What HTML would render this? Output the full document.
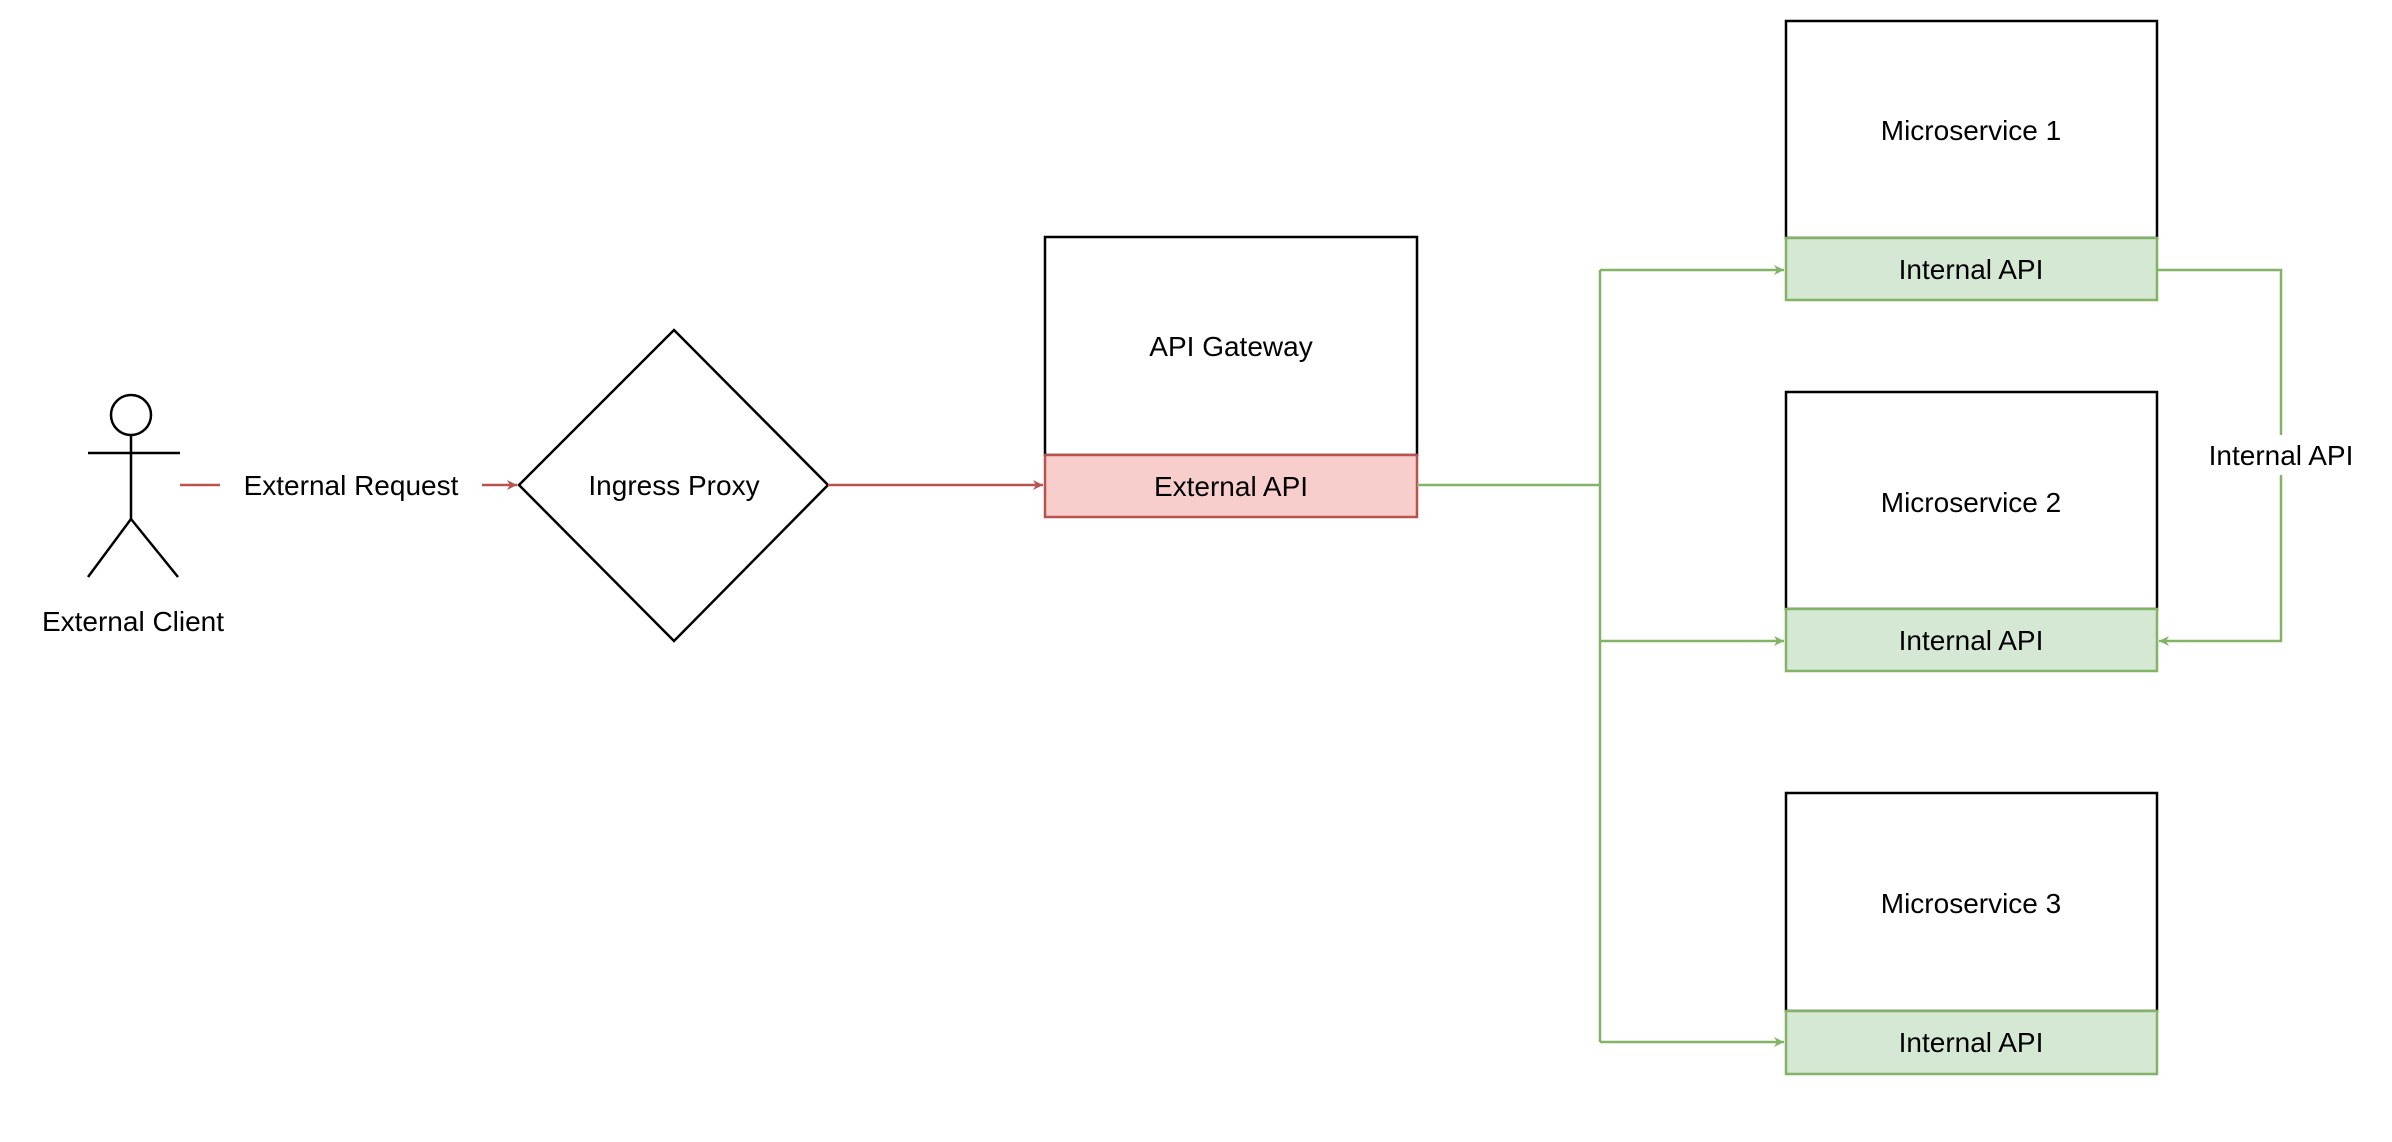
<!DOCTYPE html>
<html><head><meta charset="utf-8"><style>html,body{margin:0;padding:0;background:#fff}svg{display:block}</style></head>
<body>
<svg width="2392" height="1142" viewBox="0 0 2392 1142" xmlns="http://www.w3.org/2000/svg" font-family="Liberation Sans, Arial, sans-serif" font-size="28">
<defs>
<marker id="ar" viewBox="0 0 10 10" refX="10" refY="5" markerWidth="10" markerHeight="10" markerUnits="userSpaceOnUse" orient="auto"><path d="M0,0 L10,5 L0,10 L3,5 Z" fill="#b85450"/></marker>
<marker id="ag" viewBox="0 0 10 10" refX="10" refY="5" markerWidth="10" markerHeight="10" markerUnits="userSpaceOnUse" orient="auto"><path d="M0,0 L10,5 L0,10 L3,5 Z" fill="#82b366"/></marker>
</defs>
<g transform="scale(1)">
<!-- actor -->
<g stroke="#000" stroke-width="2.5" fill="none">
<circle cx="131" cy="415" r="20"/>
<line x1="131" y1="435" x2="131" y2="519"/>
<line x1="88" y1="453" x2="180" y2="453"/>
<line x1="131" y1="519" x2="88" y2="577"/>
<line x1="131" y1="519" x2="178" y2="577"/>
</g>
<text x="133" y="631" text-anchor="middle">External Client</text>
<!-- external request -->
<line x1="180" y1="485" x2="517" y2="485" stroke="#b85450" stroke-width="2.5" marker-end="url(#ar)"/>
<rect x="220" y="465" width="262" height="38" fill="#fff"/>
<text x="351" y="495" text-anchor="middle">External Request</text>
<!-- diamond -->
<polygon points="674,330 828,485 674,641 519,485" fill="#fff" stroke="#000" stroke-width="2.5"/>
<text x="674" y="495" text-anchor="middle">Ingress Proxy</text>
<line x1="828" y1="485" x2="1043" y2="485" stroke="#b85450" stroke-width="2.5" marker-end="url(#ar)"/>
<!-- gateway -->
<rect x="1045" y="237" width="372" height="218" fill="#fff" stroke="#000" stroke-width="2.5"/>
<text x="1231" y="356" text-anchor="middle">API Gateway</text>
<rect x="1045" y="455" width="372" height="62" fill="#f8cecc" stroke="#b85450" stroke-width="2.5"/>
<text x="1231" y="496" text-anchor="middle">External API</text>
<!-- green connectors -->
<g stroke="#82b366" stroke-width="2.5" fill="none">
<polyline points="1417,485 1600,485"/>
<polyline points="1600,270 1600,1042"/>
<line x1="1600" y1="270" x2="1784" y2="270" marker-end="url(#ag)"/>
<line x1="1600" y1="641" x2="1784" y2="641" marker-end="url(#ag)"/>
<line x1="1600" y1="1042" x2="1784" y2="1042" marker-end="url(#ag)"/>
<polyline points="2157,270 2281,270 2281,641 2159,641" marker-end="url(#ag)"/>
</g>
<rect x="2190" y="435" width="182" height="40" fill="#fff"/>
<text x="2281" y="465" text-anchor="middle">Internal API</text>
<!-- microservices -->
<g>
<rect x="1786" y="21" width="371" height="217" fill="#fff" stroke="#000" stroke-width="2.5"/>
<text x="1971" y="140" text-anchor="middle">Microservice 1</text>
<rect x="1786" y="238" width="371" height="62" fill="#d5e8d4" stroke="#82b366" stroke-width="2.5"/>
<text x="1971" y="279" text-anchor="middle">Internal API</text>

<rect x="1786" y="392" width="371" height="217" fill="#fff" stroke="#000" stroke-width="2.5"/>
<text x="1971" y="512" text-anchor="middle">Microservice 2</text>
<rect x="1786" y="609" width="371" height="62" fill="#d5e8d4" stroke="#82b366" stroke-width="2.5"/>
<text x="1971" y="650" text-anchor="middle">Internal API</text>

<rect x="1786" y="793" width="371" height="218" fill="#fff" stroke="#000" stroke-width="2.5"/>
<text x="1971" y="913" text-anchor="middle">Microservice 3</text>
<rect x="1786" y="1011" width="371" height="63" fill="#d5e8d4" stroke="#82b366" stroke-width="2.5"/>
<text x="1971" y="1052" text-anchor="middle">Internal API</text>
</g>
</g>
</svg>
</body></html>
